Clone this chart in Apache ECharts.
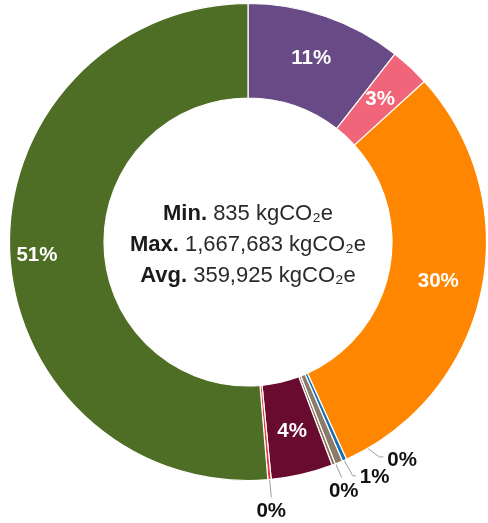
<!DOCTYPE html>
<html>
<head>
<meta charset="utf-8">
<script src="https://cdn.jsdelivr.net/npm/echarts@6/dist/echarts.min.js"></script>
<style>
  html, body { margin: 0; padding: 0; background: #ffffff; }
  #chart { width: 488px; height: 523px; }
</style>
</head>
<body>
<div id="chart"></div>
<script>
// Emission sources, clockwise from 12 o'clock
const categories = ['Source A', 'Source B', 'Source C', 'Source D', 'Source E', 'Source F', 'Source G', 'Source H', 'Source I'];
// Emissions per source (kgCO2e)
const emissions = [343000, 87500, 973907, 9700, 16800, 3900, 136000, 835, 1667683];
const sliceColors = ['#674a86', '#f0657a', '#ff8600', '#1870b0', '#8c7b69', '#86705a', '#690a2f', '#e8363a', '#4f6e25'];
// Slices whose percentage sits outside the ring with a leader line
const outsideLabelIdx = [3, 4, 5, 7];

const FONT = '"Liberation Sans", Arial, Helvetica, sans-serif';
const CX = 248, CY = 242, R_IN = 144, R_OUT = 238.5, R_MID = (R_IN + R_OUT) / 2;

// Leader geometry for the outside labels, relative to the ring mid-line
const leaders = {
  3: { dx: 54, dy: 40, tail: 4, align: 'left', lx: 4, ly: 3 },
  4: { dx: 32, dy: 57, tail: 3, align: 'left', lx: 4, ly: 2 },
  5: { dx: 25, dy: 57, tail: 0, align: 'center', lx: 2, ly: 14 },
  7: { dx: 6, dy: 65, tail: 0, align: 'center', lx: 0, ly: 14 }
};

const total = emissions.reduce((s, v) => s + v, 0);
const fmt = v => Math.round(v).toLocaleString('en-US');
const minV = Math.min(...emissions);
const maxV = Math.max(...emissions);
const avgV = total / emissions.length;

const data = categories.map((name, i) => {
  const item = { name: name, value: emissions[i], itemStyle: { color: sliceColors[i] } };
  if (outsideLabelIdx.includes(i)) {
    item.label = {
      position: 'outside', color: '#111111', fontSize: 20.5, fontWeight: 'bold', fontFamily: FONT
    };
    item.labelLine = { show: true, length: 10, length2: 10, lineStyle: { color: '#9c9c9c', width: 1 } };
  }
  return item;
});

const chart = echarts.init(document.getElementById('chart'), null, { renderer: 'canvas' });
chart.setOption({
  animation: false,
  backgroundColor: '#ffffff',
  series: [{
    type: 'pie',
    center: [CX, CY],
    radius: [R_IN, R_OUT],
    startAngle: 90,
    clockwise: true,
    minAngle: 0.8,
    avoidLabelOverlap: false,
    itemStyle: { borderColor: '#ffffff', borderWidth: 1.2 },
    label: {
      show: true,
      position: 'inside',
      color: '#ffffff',
      fontSize: 20.5,
      fontWeight: 'bold',
      fontFamily: FONT,
      formatter: p => Math.round(p.value / total * 100) + '%'
    },
    labelLine: { show: false },
    emphasis: { disabled: true },
    labelLayout: function (p) {
      if (p.dataIndex === 8) return { dx: -17, dy: 5 };
      const L = leaders[p.dataIndex];
      if (!L || !p.labelLinePoints) return {};
      const o = p.labelLinePoints[0];
      const vx = o[0] - CX, vy = o[1] - CY, d = Math.hypot(vx, vy);
      const a = [CX + vx / d * R_MID, CY + vy / d * R_MID];
      const e = [a[0] + L.dx, a[1] + L.dy];
      const t = [e[0] + L.tail, e[1]];
      return {
        x: t[0] + L.lx, y: t[1] + L.ly,
        align: L.align, verticalAlign: 'middle',
        labelLinePoints: [a, e, t]
      };
    },
    data: data
  }],
  graphic: [{
    type: 'text',
    x: CX,
    y: CY + 3,
    style: {
      text: '{b|Min.} {r|' + fmt(minV) + ' kgCO₂e}\n' +
            '{b|Max.} {r|' + fmt(maxV) + ' kgCO₂e}\n' +
            '{b|Avg.} {r|' + fmt(avgV) + ' kgCO₂e}',
      align: 'center',
      verticalAlign: 'middle',
      fontSize: 22,
      fontFamily: FONT,
      lineHeight: 31,
      rich: {
        b: { fontSize: 22, fontWeight: 'bold', fontFamily: FONT, fill: '#1b1b1b', lineHeight: 31 },
        r: { fontSize: 22, fontFamily: FONT, fill: '#2a2a2a', lineHeight: 31 }
      }
    }
  }]
});
</script>
</body>
</html>
